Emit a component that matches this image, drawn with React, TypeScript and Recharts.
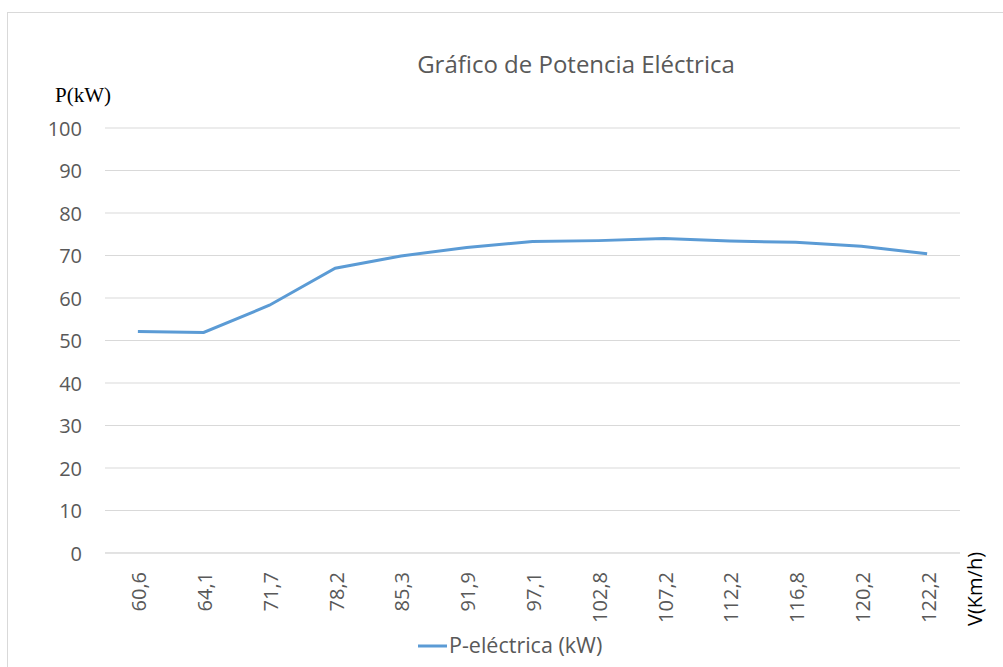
import { CartesianGrid, Legend, Line, LineChart, XAxis, YAxis } from "recharts";

const speeds = ["60,6", "64,1", "71,7", "78,2", "85,3", "91,9", "97,1", "102,8", "107,2", "112,2", "116,8", "120,2", "122,2"];
const power = [52.1, 51.9, 58.3, 67.0, 69.9, 71.9, 73.3, 73.5, 74.0, 73.4, 73.1, 72.2, 70.4];
const yTicks = [0, 10, 20, 30, 40, 50, 60, 70, 80, 90, 100];

const data = speeds.map((v, i) => ({ v, p: power[i] }));

const FONT = "'Open Sans', sans-serif";
const GREY = "#595959";
const BLUE = "#5B9BD5";
// half a category band, so the points sit in the middle of each slot
const HALF_BAND = 855 / speeds.length / 2;

function YTick({ y, payload }: any) {
  return (
    <text x={82} y={y + 7.5} textAnchor="end" fontFamily={FONT} fontSize={20} fill={GREY}>
      {payload.value}
    </text>
  );
}

function XTick({ x, payload }: any) {
  return (
    <g transform={`translate(${x + 8.5}, 572) rotate(-90)`}>
      <text x={0} y={0} textAnchor="end" fontFamily={FONT} fontSize={20} fill={GREY}>
        {payload.value}
      </text>
    </g>
  );
}

function LegendBox({ payload }: any) {
  const item = payload && payload[0];
  return (
    <svg width={230} height={30} style={{ display: "block" }}>
      <line x1={0} y1={15} x2={29} y2={15} stroke={BLUE} strokeWidth={3} />
      <text x={31} y={22} fontFamily={FONT} fontSize={21.5} fill={GREY}>
        {item ? item.value : ""}
      </text>
    </svg>
  );
}

export default function App() {
  return (
    <div style={{ position: "absolute", left: 0, top: 0, width: 1003, height: 667, background: "#fff" }}>
      <div
        style={{
          position: "absolute",
          left: 7,
          top: 12,
          width: 1000,
          height: 660,
          borderLeft: "1px solid #d9d9d9",
          borderTop: "1px solid #d9d9d9"
        }}
      />
      <div style={{ position: "absolute", left: 0, top: 0 }}>
        <LineChart width={1003} height={667} data={data} margin={{ top: 128, right: 43, left: 0, bottom: 0 }}>
          <CartesianGrid horizontal vertical={false} stroke="#d9d9d9" strokeWidth={1} />
          <XAxis
            dataKey="v"
            height={84}
            interval={0}
            padding={{ left: HALF_BAND, right: HALF_BAND }}
            tickLine={false}
            axisLine={{ stroke: "#d9d9d9" }}
            tick={<XTick />}
          />
          <YAxis
            width={105}
            domain={[0, 100]}
            ticks={yTicks}
            interval={0}
            tickLine={false}
            axisLine={false}
            tick={<YTick />}
          />
          <Line
            type="linear"
            dataKey="p"
            name="P-eléctrica (kW)"
            stroke={BLUE}
            strokeWidth={3}
            dot={false}
            isAnimationActive={false}
          />
          <Legend
            content={<LegendBox />}
            wrapperStyle={{ position: "absolute", left: 418, top: 631, width: 230 }}
          />
        </LineChart>
      </div>
      <svg width={1003} height={667} style={{ position: "absolute", left: 0, top: 0, pointerEvents: "none" }}>
        <text x={576} y={73} textAnchor="middle" fontFamily={FONT} fontSize={24} fill={GREY}>
          Gráfico de Potencia Eléctrica
        </text>
        <text x={55} y={102} fontFamily="'Liberation Serif', serif" fontSize={21} fill="#000">
          P(kW)
        </text>
        <g transform="translate(982, 626) rotate(-90)">
          <text x={0} y={0} fontFamily={FONT} fontSize={20} fill="#000">
            V(Km/h)
          </text>
        </g>
      </svg>
    </div>
  );
}
